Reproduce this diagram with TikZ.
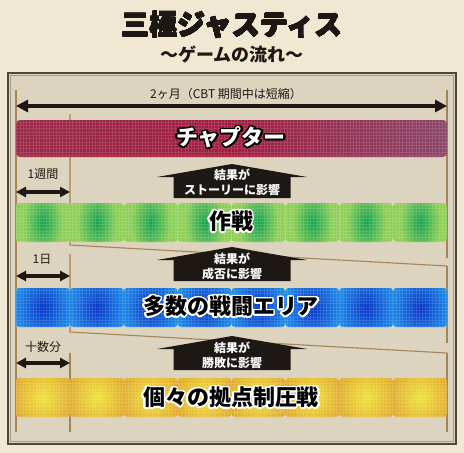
\documentclass[tikz,border=0pt]{standalone}
\usepackage{fontspec}
\usepackage[copies]{contour}
\usetikzlibrary{arrows.meta}
\newfontfamily\jp{Noto Sans CJK JP}
\definecolor{parch}{HTML}{F1E8D4}
\definecolor{panel}{HTML}{DDD4BF}
\definecolor{framec}{HTML}{4E463A}
\definecolor{guide}{HTML}{A58455}
\definecolor{ink}{HTML}{1E1814}
\definecolor{chapA}{HTML}{9A2846}
\definecolor{chapB}{HTML}{A01C3E}
\definecolor{chapC}{HTML}{8A4466}
\definecolor{grnA}{HTML}{8FCF58}
\definecolor{grnB}{HTML}{14A24E}
\definecolor{bluA}{HTML}{1F94EC}
\definecolor{bluB}{HTML}{0834C4}
\definecolor{gldA}{HTML}{DEA02C}
\definecolor{gldB}{HTML}{F0E23A}
\contournumber{32}
\tikzset{
  guideline/.style={draw=guide, line width=1.1pt},
  bigarrow/.style={draw=ink, line width=3.6pt, {Triangle[length=12pt,width=12pt]}-{Triangle[length=12pt,width=12pt]}},
  smallarrow/.style={draw=ink, line width=3.2pt, {Triangle[length=10pt,width=10pt]}-{Triangle[length=10pt,width=10pt]}},
  gridline/.style={draw=white, opacity=0.14, line width=0.5pt, step=3.3pt},
  smalltext/.style={font=\jp\fontsize{12}{13}\selectfont, text=ink, inner sep=0pt},
  housetext/.style={font=\jp\bfseries\fontsize{12}{15}\selectfont, text=white, align=center, inner sep=0pt},
  bartext/.style={font=\jp\bfseries\fontsize{22}{24}\selectfont, inner sep=0pt},
  housebox/.style={fill=ink}
}
% #1 top, #2 bottom, #3 edge colour, #4 centre colour, #5 #6 spot radii
\newcommand\segbar[6]{%
  \foreach \k in {0,...,7}{%
    \begin{scope}
      \clip[rounded corners=3.5pt] ({16+\k*53.875},#1) rectangle ({16+(\k+1)*53.875},#2);
      \fill[#3] ({16+\k*53.875},#1) rectangle ({16+(\k+1)*53.875},#2);
      \shade[inner color=#4, outer color=#3] ({16+\k*53.875+26.94},{(#1+#2)/2}) ellipse ({#5} and {#6});
    \end{scope}
  }%
  \begin{scope}
    \clip (16,#1) rectangle (447,#2);
    \draw[gridline] (16,#1) grid (447,#2);
  \end{scope}
}
\newcommand\housepath[1]{%
  \fill[housebox] (232,#1) -- (307,#1+13) -- (290.5,#1+13) -- (290.5,#1+34)
    -- (173.5,#1+34) -- (173.5,#1+13) -- (157,#1+13) -- cycle;
}
\begin{document}
\begin{tikzpicture}[x=1pt,y=-1pt]
\useasboundingbox (0,0) rectangle (464,453);
\fill[parch] (0,0) rectangle (464,453);
% frame
\draw[framec, line width=2.2pt, fill=panel] (8,73) rectangle (456,444);
\draw[framec!40!panel, line width=0.6pt] (10.5,75.5) rectangle (453.5,441.5);

% title
\node[font=\jp\bfseries\fontsize{28}{30}\selectfont, text=ink, inner sep=0pt] (title) at (232,25) {\contourlength{0.3pt}\contour{ink}{三極ジャスティス}};
\node[font=\jp\bfseries\fontsize{18}{20}\selectfont, text=ink, inner sep=0pt] (subtitle) at (232,55) {～ゲームの流れ～};

% guide coordinates
\coordinate (La) at (16,90);
\coordinate (Lb) at (16,432);
\coordinate (Ra1) at (447,90);
\coordinate (Rb1) at (447,258);
\coordinate (Ra2) at (447,266);
\coordinate (Rb2) at (447,343);
\coordinate (Ra3) at (447,353);
\coordinate (Rb3) at (447,432);
\coordinate (Wa) at (70,114);
\coordinate (Wb) at (70,245);
\coordinate (Da) at (70,254);
\coordinate (Db) at (70,332);
\coordinate (Ma) at (70,353);
\coordinate (Mb) at (70,432);

\draw[guideline] (La) -- (Lb);
\draw[guideline] (Ra1) -- (Rb1);
\draw[guideline] (Ra2) -- (Rb2);
\draw[guideline] (Ra3) -- (Rb3);
\draw[guideline] (Wa) -- (Wb) -- (Ra2);
\draw[guideline] (Da) -- (Db) -- (Ra3);
\draw[guideline] (Ma) -- (Mb);

% top dimension
\node[smalltext] (twomonth) at (226,94) {2ヶ月（CBT 期間中は短縮）};
\coordinate (A1l) at (16,106);
\coordinate (A1r) at (447,106);
\draw[bigarrow] (A1l) -- (A1r);

% chapter bar
\begin{scope}
  \clip[rounded corners=4pt] (16,120) rectangle (447,157);
  \shade[left color=chapA, right color=chapC, middle color=chapB] (16,120) rectangle (447,157);
  \draw[gridline] (16,120) grid (447,157);
\end{scope}
\node[bartext, text=white] (chap) at (231,138) {\contourlength{1.4pt}\contour{black}{チャプター}};

% week
\node[smalltext] (week) at (43,174) {1週間};
\coordinate (A2l) at (16,192);
\coordinate (A2r) at (70,192);
\draw[smallarrow] (A2l) -- (A2r);
\housepath{164}
\node[housetext] (h1) at (232,182.5) {結果が\\ストーリーに影響};

% operation bar
\segbar{203}{242}{grnA}{grnB}{20}{34}
\node[bartext, text=black] (saku) at (231,222) {\contourlength{1.4pt}\contour{white}{作戦}};

% day
\node[smalltext] (day) at (42,259) {1日};
\coordinate (A3l) at (16,276);
\coordinate (A3r) at (70,276);
\draw[smallarrow] (A3l) -- (A3r);
\housepath{247}
\node[housetext] (h2) at (232,266) {結果が\\成否に影響};

% battle area bar
\segbar{288}{327}{bluA}{bluB}{32}{40}
\node[bartext, text=black] (sento) at (231,307) {\contourlength{1.4pt}\contour{white}{多数の戦闘エリア}};

% minutes
\node[smalltext] (mins) at (43,347) {十数分};
\coordinate (A4l) at (16,363);
\coordinate (A4r) at (70,363);
\draw[smallarrow] (A4l) -- (A4r);
\housepath{336}
\node[housetext] (h3) at (232,355.5) {結果が\\勝敗に影響};

% base capture bar
\segbar{378}{417}{gldA}{gldB}{36}{38}
\node[bartext, text=black] (kyoten) at (231,398) {\contourlength{1.4pt}\contour{white}{個々の拠点制圧戦}};
\end{tikzpicture}
\end{document}
